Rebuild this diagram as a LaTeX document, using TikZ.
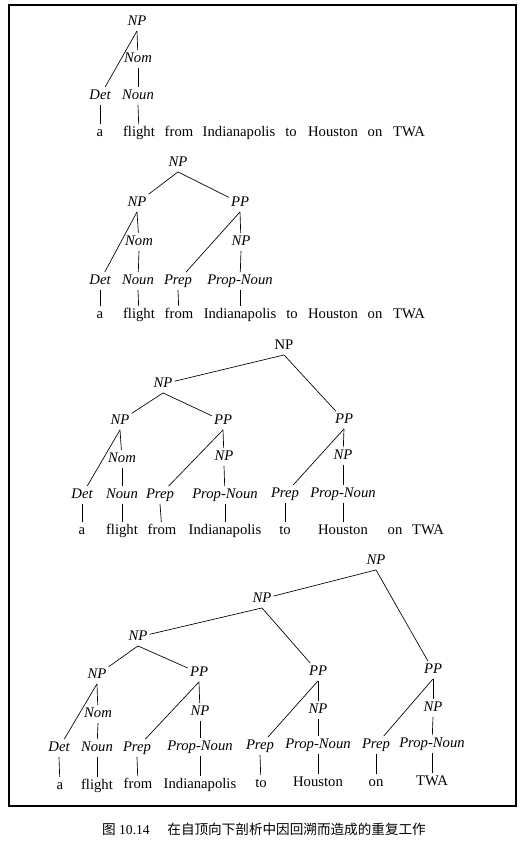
\documentclass[tikz,border=0pt]{standalone}
\usepackage{fontspec}
\setmainfont{Liberation Serif}
\newfontfamily\cjk{Noto Sans CJK SC}
\usepackage{tikz}

\begin{document}
\begin{tikzpicture}[x=0.75pt, y=-0.75pt,
    cat/.style={font=\fontsize{11}{13}\selectfont\itshape, inner sep=1.5pt, text height=7.5pt, text depth=2.5pt},
    topcat/.style={cat, font=\fontsize{11}{13}\selectfont\upshape},
    word/.style={font=\fontsize{11}{13}\selectfont, inner sep=1.5pt, text height=7.5pt, text depth=2.5pt},
    branch/.style={line width=0.5pt}]
    \useasboundingbox (0,0) rectangle (524,844);

    % draw frame
    \draw[line width=0.8pt] (9,5) rectangle (516,806);
    \draw[line width=1.6pt] (9,806) -- (516,806);

    % first tree
    \node[cat] (t1np) at (137,22) {NP};
    \node[cat] (t1nom) at (138,59) {Nom};
    \node[cat] (t1det) at (100,96) {Det};
    \node[cat] (t1noun) at (138,96) {Noun};
    \node[word] (t1a) at (100,133) {a};
    \node[word] (t1flight) at (139,133) {flight};
    \node[word] (t1from) at (179,133) {from};
    \node[word] (t1indy) at (239,133) {Indianapolis};
    \node[word] (t1to) at (291,133) {to};
    \node[word] (t1houston) at (333,133) {Houston};
    \node[word] (t1on) at (375,133) {on};
    \node[word] (t1twa) at (409,133) {TWA};

    % second tree
    \node[cat] (t2np) at (178,163) {NP};
    \node[cat] (t2npl) at (137,203) {NP};
    \node[cat] (t2pp) at (240,203) {PP};
    \node[cat] (t2nom) at (139,242) {Nom};
    \node[cat] (t2ppnp) at (241,242) {NP};
    \node[cat] (t2det) at (100,281) {Det};
    \node[cat] (t2noun) at (138,281) {Noun};
    \node[cat] (t2prep) at (178,281) {Prep};
    \node[cat] (t2prop) at (240,281) {Prop-Noun};
    \node[word] (t2a) at (100,315) {a};
    \node[word] (t2flight) at (139,315) {flight};
    \node[word] (t2from) at (179,315) {from};
    \node[word] (t2indy) at (240,315) {Indianapolis};
    \node[word] (t2to) at (292,315) {to};
    \node[word] (t2houston) at (333,315) {Houston};
    \node[word] (t2on) at (375,315) {on};
    \node[word] (t2twa) at (409,315) {TWA};

    % third tree
    \node[topcat] (t3np) at (284,346) {NP};
    \node[cat] (t3npa) at (163,384) {NP};
    \node[cat] (t3npb) at (120,421) {NP};
    \node[cat] (t3ppa) at (223,421) {PP};
    \node[cat] (t3ppb) at (344,420) {PP};
    \node[cat] (t3nom) at (122,459) {Nom};
    \node[cat] (t3npc) at (224,457) {NP};
    \node[cat] (t3npd) at (343,456) {NP};
    \node[cat] (t3det) at (82,495) {Det};
    \node[cat] (t3noun) at (122,495) {Noun};
    \node[cat] (t3prep) at (160,495) {Prep};
    \node[cat] (t3prop) at (225,495) {Prop-Noun};
    \node[cat] (t3prepb) at (285,494) {Prep};
    \node[cat] (t3propb) at (343,494) {Prop-Noun};
    \node[word] (t3a) at (82,531) {a};
    \node[word] (t3flight) at (122,531) {flight};
    \node[word] (t3from) at (162,531) {from};
    \node[word] (t3indy) at (225,531) {Indianapolis};
    \node[word] (t3to) at (285,531) {to};
    \node[word] (t3houston) at (343,531) {Houston};
    \node[word] (t3on) at (395,531) {on};
    \node[word] (t3twa) at (428,531) {TWA};

    % fourth tree
    \node[cat] (t4np) at (376,561) {NP};
    \node[cat] (t4npa) at (262,599) {NP};
    \node[cat] (t4npb) at (138,637) {NP};
    \node[cat] (t4npc) at (97,675) {NP};
    \node[cat] (t4ppa) at (199,673) {PP};
    \node[cat] (t4ppb) at (318,672) {PP};
    \node[cat] (t4ppc) at (433,670) {PP};
    \node[cat] (t4nom) at (98,714) {Nom};
    \node[cat] (t4npd) at (200,712) {NP};
    \node[cat] (t4npe) at (318,710) {NP};
    \node[cat] (t4npf) at (433,708) {NP};
    \node[cat] (t4det) at (59,748) {Det};
    \node[cat] (t4noun) at (97,748) {Noun};
    \node[cat] (t4prep) at (137,748) {Prep};
    \node[cat] (t4prop) at (200,747) {Prop-Noun};
    \node[cat] (t4prepb) at (260,746) {Prep};
    \node[cat] (t4propb) at (318,745) {Prop-Noun};
    \node[cat] (t4prepc) at (376,745) {Prep};
    \node[cat] (t4propc) at (432,744) {Prop-Noun};
    \node[word] (t4a) at (60,786) {a};
    \node[word] (t4flight) at (97,786) {flight};
    \node[word] (t4from) at (138,785) {from};
    \node[word] (t4indy) at (200,785) {Indianapolis};
    \node[word] (t4to) at (261,784) {to};
    \node[word] (t4houston) at (318,783) {Houston};
    \node[word] (t4on) at (376,783) {on};
    \node[word] (t4twa) at (432,782) {TWA};

    % draw branches
    \foreach \p/\c in {t1np/t1det, t1np/t1nom, t1nom/t1noun, t1det/t1a, t1noun/t1flight,
        t2np/t2npl, t2np/t2pp, t2npl/t2det, t2npl/t2nom, t2nom/t2noun, t2pp/t2prep, t2pp/t2ppnp,
        t2ppnp/t2prop, t2det/t2a, t2noun/t2flight, t2prep/t2from, t2prop/t2indy,
        t3np/t3npa, t3np/t3ppb, t3npa/t3npb, t3npa/t3ppa, t3npb/t3det, t3npb/t3nom, t3nom/t3noun,
        t3ppa/t3prep, t3ppa/t3npc, t3npc/t3prop, t3ppb/t3prepb, t3ppb/t3npd, t3npd/t3propb,
        t3det/t3a, t3noun/t3flight, t3prep/t3from, t3prop/t3indy, t3prepb/t3to, t3propb/t3houston,
        t4np/t4npa, t4np/t4ppc, t4npa/t4npb, t4npa/t4ppb, t4npb/t4npc, t4npb/t4ppa,
        t4npc/t4det, t4npc/t4nom, t4nom/t4noun, t4ppa/t4prep, t4ppa/t4npd, t4npd/t4prop,
        t4ppb/t4prepb, t4ppb/t4npe, t4npe/t4propb, t4ppc/t4prepc, t4ppc/t4npf, t4npf/t4propc,
        t4det/t4a, t4noun/t4flight, t4prep/t4from, t4prop/t4indy, t4prepb/t4to,
        t4propb/t4houston, t4prepc/t4on, t4propc/t4twa}
        \draw[branch] (\p.south) -- (\c);

    % caption
    \node[font=\fontsize{10.2}{12}\selectfont] (caption) at (264,829) {{\cjk 图} 10.14\hspace{1.3em}{\cjk 在自顶向下剖析中因回溯而造成的重复工作}};
\end{tikzpicture}
\end{document}
